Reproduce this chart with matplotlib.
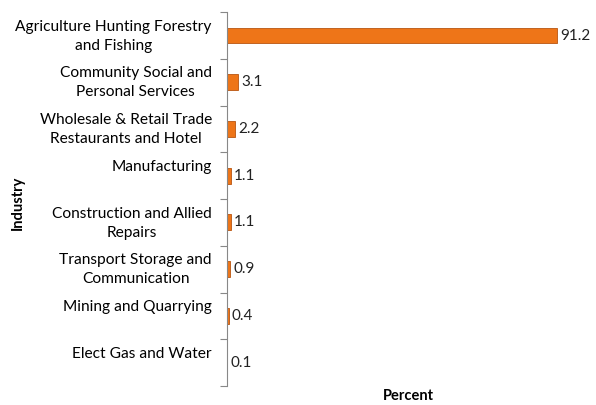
import matplotlib
matplotlib.use("Agg")
import matplotlib.pyplot as plt

categories = ["Agriculture Hunting Forestry\nand Fishing",
              "Community Social and\nPersonal Services",
              "Wholesale & Retail Trade\nRestaurants and Hotel",
              "Manufacturing",
              "Construction and Allied\nRepairs",
              "Transport Storage and\nCommunication",
              "Mining and Quarrying",
              "Elect Gas and Water"]
values = [91.2, 3.1, 2.2, 1.1, 1.1, 0.9, 0.4, 0.1]
value_labels = ["91.2", "3.1", "2.2", "1.1", "1.1", "0.9", "0.4", "0.1"]

plt.rcParams['font.family'] = ['Lato', 'DejaVu Sans']

fig = plt.figure(figsize=(5.96, 4.05), dpi=100)
ax = fig.add_axes([0.381, 0.047, 0.607, 0.923])

n = len(categories)
ypos = list(range(n))
ax.barh(ypos, values, height=0.34, color="#EE7518", edgecolor="#B85510", linewidth=0.6)
for y, v, lab in zip(ypos, values, value_labels):
    ax.text(v + 0.8, y, lab, va="center", ha="left", fontsize=11, color="#222222")

# single-line labels sit on the first line of a two-line block, as in the original
shown = [c if "\n" in c else c + "\n " for c in categories]

ax.set_ylim(n - 0.5, -0.5)
ax.set_xlim(0, 100)
ax.set_yticks([i - 0.5 for i in range(n + 1)], minor=False)
ax.set_yticklabels([])
ax.set_yticks([p - 0.07 for p in ypos], minor=True)
ax.set_yticklabels(shown, minor=True, fontsize=11.2, ha="right",
                   multialignment="center", linespacing=1.45)
ax.tick_params(axis="y", which="minor", length=0, pad=11)
ax.tick_params(axis="y", which="major", length=5, color="#888888", direction="out")
ax.set_xticks([])
for s in ["top", "right", "bottom"]:
    ax.spines[s].set_visible(False)
ax.spines["left"].set_color("#888888")

ax.set_xlabel("Percent", fontsize=10.5, fontweight="bold", labelpad=2)
fig.text(0.03, 0.5, "Industry", rotation=90, fontsize=10.5, fontweight="bold", va="center", ha="center")

fig.savefig("out.png", dpi=100)
